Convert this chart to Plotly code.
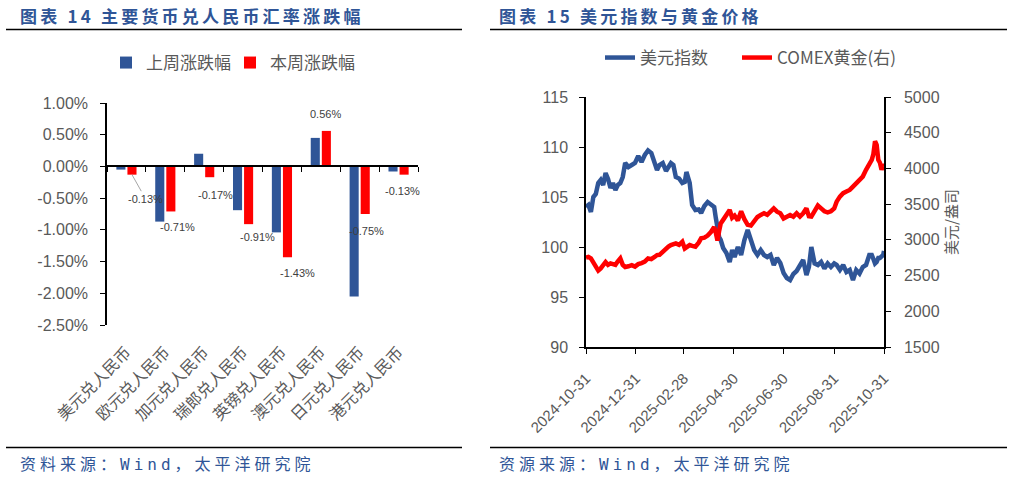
import plotly.graph_objects as go

W, H = 1021, 479

# ---------------- Chart 14 data ----------------
currencies = ["美元兑人民币", "欧元兑人民币", "加元兑人民币", "瑞郎兑人民币",
              "英镑兑人民币", "澳元兑人民币", "日元兑人民币", "港元兑人民币"]
last_week = [-0.05, -0.87, 0.20, -0.69, -1.04, 0.45, -2.05, -0.08]
this_week = [-0.13, -0.71, -0.17, -0.91, -1.43, 0.56, -0.75, -0.13]
pct_ticks = [1.0, 0.5, 0.0, -0.5, -1.0, -1.5, -2.0, -2.5]
pct_tick_labels = ["1.00%", "0.50%", "0.00%", "-0.50%", "-1.00%", "-1.50%", "-2.00%", "-2.50%"]

# ---------------- Chart 15 data ----------------
dates = [
    "2024-10-31", "2024-11-03", "2024-11-06", "2024-11-09", "2024-11-12", "2024-11-15", "2024-11-18",
    "2024-11-21", "2024-11-24", "2024-11-27", "2024-11-30",
    "2024-12-03", "2024-12-06", "2024-12-09", "2024-12-12", "2024-12-15", "2024-12-18", "2024-12-22",
    "2024-12-26", "2024-12-30",
    "2025-01-03", "2025-01-07", "2025-01-11", "2025-01-15", "2025-01-19", "2025-01-23", "2025-01-26", "2025-01-29",
    "2025-02-02", "2025-02-06", "2025-02-09", "2025-02-12", "2025-02-15", "2025-02-18", "2025-02-22", "2025-02-26",
    "2025-03-01", "2025-03-03", "2025-03-07", "2025-03-10", "2025-03-14", "2025-03-18", "2025-03-21",
    "2025-03-25", "2025-03-29",
    "2025-04-02", "2025-04-06", "2025-04-08", "2025-04-10", "2025-04-12", "2025-04-14", "2025-04-17",
    "2025-04-21", "2025-04-25", "2025-04-28",
    "2025-05-01", "2025-05-05", "2025-05-09", "2025-05-13", "2025-05-17", "2025-05-21", "2025-05-25", "2025-05-29",
    "2025-06-02", "2025-06-06", "2025-06-10", "2025-06-14", "2025-06-18", "2025-06-22", "2025-06-26", "2025-06-30",
    "2025-07-04", "2025-07-08", "2025-07-12", "2025-07-16", "2025-07-20", "2025-07-24", "2025-07-28", "2025-07-31",
    "2025-08-03", "2025-08-07", "2025-08-11", "2025-08-15", "2025-08-19", "2025-08-23", "2025-08-27", "2025-08-31",
    "2025-09-03", "2025-09-07", "2025-09-11", "2025-09-15", "2025-09-19", "2025-09-23", "2025-09-27",
    "2025-10-01", "2025-10-05", "2025-10-09", "2025-10-13", "2025-10-16", "2025-10-18", "2025-10-20",
    "2025-10-22", "2025-10-24", "2025-10-26", "2025-10-28", "2025-10-30", "2025-10-31",
]
dxy = [
    104.0, 104.2, 103.5, 105.0, 105.3, 106.4, 106.7, 106.2, 107.4, 106.8, 105.9,
    106.4, 105.7, 106.2, 106.4, 107.0, 108.4, 108.0, 108.2, 108.4,
    109.1, 108.5, 109.2, 109.65, 109.4, 108.55, 107.7, 108.2,
    108.4, 107.6, 108.0, 108.4, 108.2, 107.0, 106.85, 106.4,
    106.5, 107.5, 106.4, 104.2, 103.7, 103.75, 103.4, 104.1, 104.5,
    104.2, 104.0, 102.9, 101.7, 101.0, 100.7, 99.9, 99.4, 98.5, 99.7,
    99.0, 100.0, 99.2, 100.7, 101.7, 100.7, 99.7, 99.2,
    99.7, 99.2, 99.0, 99.2, 98.2, 98.9, 98.4, 97.4,
    96.9, 96.7, 97.3, 97.6, 98.2, 98.7, 97.2, 98.0,
    100.0, 98.35, 98.2, 98.5, 97.85, 98.35, 98.0, 98.35,
    98.2, 97.7, 98.2, 97.5, 97.7, 96.7, 97.7,
    97.35, 98.0, 98.2, 99.2, 99.2, 98.8, 98.35, 98.5, 98.9, 98.9, 99.0, 99.2, 99.6,
]
gold = [
    2750, 2760, 2740, 2690, 2640, 2570, 2600, 2650, 2690, 2650, 2670,
    2660, 2650, 2700, 2740, 2650, 2620, 2630, 2646, 2625,
    2660, 2675, 2695, 2740, 2730, 2760, 2787, 2790,
    2840, 2880, 2905, 2927, 2940, 2951, 2930, 2974,
    2880, 2900, 2927, 2915, 2904, 2960, 3021, 3030, 3060,
    3110, 3180, 3100, 2990, 3120, 3230, 3280, 3348, 3418, 3310,
    3340, 3270, 3400, 3290, 3210, 3200, 3260, 3320,
    3350, 3372, 3350, 3400, 3440, 3395, 3372, 3300,
    3330, 3348, 3325, 3372, 3325, 3372, 3442, 3330,
    3325, 3400, 3480, 3440, 3400, 3385, 3400, 3440,
    3535, 3606, 3653, 3676, 3699, 3746, 3793,
    3840, 3886, 3980, 4050, 4120, 4200, 4380, 4330, 4120, 4080, 3980, 4060, 4030,
]
date_ticks = ["2024-10-31", "2024-12-31", "2025-02-28", "2025-04-30",
              "2025-06-30", "2025-08-31", "2025-10-31"]
dxy_ticks = [90, 95, 100, 105, 110, 115]
gold_ticks = [1500, 2000, 2500, 3000, 3500, 4000, 4500, 5000]

# ---------------- styling ----------------
BLUE = "#2F5597"
RED = "#FF0000"
GREY = "#595959"
TITLE_BLUE = "#2F5597"
NUM_FONT = "Liberation Sans, Arial, Noto Sans CJK SC"
CJK_FONT = "Noto Sans CJK SC, Liberation Sans"


def fx(p):
    return p / W


def fy(p):
    return 1 - p / H


L_X = [fx(107), fx(418)]
L_Y = [fy(325), fy(103)]
R_X = [fx(586), fx(884)]
R_Y = [fy(347), fy(97)]

y_lo, y_hi = pct_ticks[-1], pct_ticks[0]
zero_pos = L_Y[0] + (0 - y_lo) / (y_hi - y_lo) * (L_Y[1] - L_Y[0])

BARGAP = 0.43
BARGROUPGAP = 0.18
cat_w = (418 - 107) / len(currencies)
red_off = (1 - BARGAP) * cat_w / 4

fig = go.Figure()

xs = list(range(len(currencies)))
fig.add_trace(go.Bar(x=xs, y=last_week, name="上周涨跌幅", marker=dict(color=BLUE, line=dict(width=0)),
                     xaxis="x", yaxis="y", legend="legend", legendwidth=79))
fig.add_trace(go.Bar(x=xs, y=this_week, name="本周涨跌幅", marker=dict(color=RED, line=dict(width=0)),
                     xaxis="x", yaxis="y", legend="legend", legendwidth=95))
# helper (empty) trace to carry the zero-line axis
fig.add_trace(go.Scatter(x=[None], y=[None], xaxis="x2", yaxis="y", showlegend=False, hoverinfo="skip"))

fig.add_trace(go.Scatter(x=dates, y=dxy, name="美元指数", mode="lines",
                         line=dict(color=BLUE, width=4.5), xaxis="x3", yaxis="y3",
                         legend="legend2", legendwidth=92))
fig.add_trace(go.Scatter(x=dates, y=gold, name="COMEX黄金(右)", mode="lines",
                         line=dict(color=RED, width=4.5), xaxis="x3", yaxis="y4",
                         legend="legend2", legendwidth=130))

axis_common = dict(showgrid=False, zeroline=False, linecolor="black", linewidth=1.5,
                   tickcolor="black", tickwidth=1.2, ticklen=5, automargin=False,
                   tickfont=dict(family=NUM_FONT, size=16, color=GREY))
axis_nofont = {k: v for k, v in axis_common.items() if k != "tickfont"}

fig.update_layout(
    width=W, height=H, margin=dict(l=0, r=0, t=0, b=0, autoexpand=False),
    paper_bgcolor="white", plot_bgcolor="rgba(0,0,0,0)",
    barmode="group", bargap=BARGAP, bargroupgap=BARGROUPGAP,
    showlegend=True,
    xaxis=dict(domain=L_X, anchor="y", range=[-0.5, len(currencies) - 0.5],
               tickvals=xs, ticktext=currencies, tickangle=-45, showline=False, ticks="",
               showgrid=False, zeroline=False, ticklabelstandoff=14, automargin=False,
               tickfont=dict(family=CJK_FONT, size=16, color=GREY)),
    xaxis2=dict(overlaying="x", anchor="free", position=zero_pos,
                range=[-0.5, len(currencies) - 0.5],
                tickvals=[i - 0.5 for i in range(len(currencies) + 1)],
                showticklabels=False, ticks="outside", showline=True, **axis_nofont),
    yaxis=dict(domain=L_Y, anchor="x", range=[y_lo, y_hi], tickvals=pct_ticks,
               ticktext=pct_tick_labels, showline=True, ticks="outside",
               ticklabelstandoff=9, **axis_common),
    xaxis3=dict(domain=R_X, anchor="y3", type="date", range=[date_ticks[0], date_ticks[-1]],
                tickvals=date_ticks, ticktext=date_ticks, tickangle=-45, showline=True,
                ticks="outside", ticklabelstandoff=10, **axis_nofont,
                tickfont=dict(family=NUM_FONT, size=15, color=GREY)),
    yaxis3=dict(domain=R_Y, anchor="x3", range=[dxy_ticks[0], dxy_ticks[-1]], tickvals=dxy_ticks,
                showline=True, ticks="outside", ticklabelstandoff=8, **axis_common),
    yaxis4=dict(overlaying="y3", anchor="x3", side="right",
                range=[gold_ticks[0], gold_ticks[-1]], tickvals=gold_ticks,
                showline=True, ticks="outside", ticklabelstandoff=10,
                title=dict(text="美元/盎司", font=dict(family=CJK_FONT, size=15, color=GREY), standoff=8),
                **axis_common),
    legend=dict(orientation="h", x=fx(106), xanchor="left", y=fy(63), yanchor="middle",
                font=dict(family=CJK_FONT, size=17, color=GREY), bgcolor="rgba(0,0,0,0)",
                itemclick=False),
    legend2=dict(orientation="h", x=fx(600), xanchor="left", y=fy(58), yanchor="middle",
                 font=dict(family=CJK_FONT, size=17, color=GREY), bgcolor="rgba(0,0,0,0)",
                 itemclick=False),
)

annotations = []
# data labels on this-week bars (offset from bar end, px)
label_dx = [13.5, 6.5, 5.5, 8.5, 10.5, -0.5, 1.5, -1.5]
label_dy = [24, 16, 18, 13.3, 16.3, -16.5, 17.4, 16.8]
for i, v in enumerate(this_week):
    if i == 0:
        annotations.append(dict(
            x=i, y=v, xref="x", yref="y", text=f"{v:.2f}%", showarrow=True,
            arrowhead=0, arrowwidth=1, arrowcolor="#A6A6A6", standoff=0,
            ax=label_dx[i], ay=label_dy[i], xshift=red_off,
            font=dict(family=NUM_FONT, size=11, color="#404040")))
    else:
        annotations.append(dict(
            x=i, y=v, xref="x", yref="y", text=f"{v:.2f}%", showarrow=False,
            xshift=red_off + label_dx[i], yshift=-label_dy[i],
            font=dict(family=NUM_FONT, size=11, color="#404040")))

title_font = dict(family=CJK_FONT, size=17, color=TITLE_BLUE, weight="bold")
foot_font = dict(family="DejaVu Sans Mono, Noto Sans CJK SC", size=16, color=TITLE_BLUE)
annotations += [
    dict(x=fx(18), y=fy(16), xref="paper", yref="paper", xanchor="left", yanchor="middle",
         showarrow=False, font=title_font,
         text='<span style="letter-spacing:3.2px">图表 14 主要货币兑人民币汇率涨跌幅</span>'),
    dict(x=fx(497), y=fy(16), xref="paper", yref="paper", xanchor="left", yanchor="middle",
         showarrow=False, font=title_font,
         text='<span style="letter-spacing:3.2px">图表 15 美元指数与黄金价格</span>'),
    dict(x=fx(18), y=fy(464), xref="paper", yref="paper", xanchor="left", yanchor="middle",
         showarrow=False, font=foot_font,
         text='<span style="letter-spacing:4px">资料来源：Wind，太平洋研究院</span>'),
    dict(x=fx(497), y=fy(464), xref="paper", yref="paper", xanchor="left", yanchor="middle",
         showarrow=False, font=foot_font,
         text='<span style="letter-spacing:4px">资源来源：Wind，太平洋研究院</span>'),
]
fig.update_layout(annotations=annotations)

rule = dict(color="black", width=1.5)
fig.update_layout(shapes=[
    dict(type="line", xref="paper", yref="paper", x0=fx(6), x1=fx(462), y0=fy(29.5), y1=fy(29.5), line=rule),
    dict(type="line", xref="paper", yref="paper", x0=fx(490), x1=fx(1007), y0=fy(29.5), y1=fy(29.5), line=rule),
    dict(type="line", xref="paper", yref="paper", x0=fx(6), x1=fx(462), y0=fy(447.5), y1=fy(447.5), line=rule),
    dict(type="line", xref="paper", yref="paper", x0=fx(490), x1=fx(1007), y0=fy(447.5), y1=fy(447.5), line=rule),
])

fig.write_html("out.html")
